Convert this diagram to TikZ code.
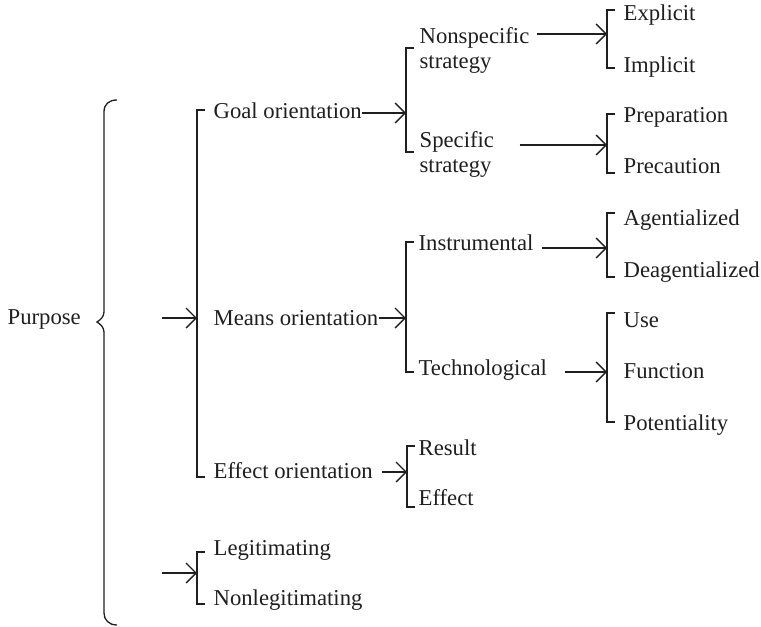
\documentclass[tikz,border=0pt]{standalone}
\usepackage{fontspec}
\setmainfont{Liberation Serif}
\usetikzlibrary{arrows.meta}
\begin{document}
\begin{tikzpicture}[x=1pt,y=-1pt,
  line width=1.3pt, draw=black!88, text=black!88,
  lbl/.style={anchor=base west, inner sep=0pt, font=\fontsize{22.7}{25}\selectfont, align=left},
  link/.style={-{Straight Barb[length=10pt,width=20pt,line width=1.3pt]}},
  tick/.style={line cap=butt, line join=miter}]
\useasboundingbox (0,0) rectangle (761,627);

% ---- labels (two-line labels are placed by their last baseline) ----
\node[lbl] (purpose)  at (7,324)   {Purpose};
\node[lbl] (goal)     at (213,118) {Goal orientation};
\node[lbl] (means)    at (213,325) {Means orientation};
\node[lbl] (effor)    at (213,478) {Effect orientation};
\node[lbl] (legit)    at (213,555) {Legitimating};
\node[lbl] (nonlegit) at (213,605) {Nonlegitimating};
\node[lbl] (nonspec)  at (419,68)  {Nonspecific\\strategy};
\node[lbl] (spec)     at (419,172) {Specific\\strategy};
\node[lbl] (instr)    at (418,250) {Instrumental};
\node[lbl] (techn)    at (418,375) {Technological};
\node[lbl] (result)   at (418,455) {Result};
\node[lbl] (effect)   at (418,505) {Effect};
\node[lbl] (explicit) at (623,20)  {Explicit};
\node[lbl] (implicit) at (623,72)  {Implicit};
\node[lbl] (prep)     at (623,122) {Preparation};
\node[lbl] (prec)     at (623,173) {Precaution};
\node[lbl] (agent)    at (623,225) {Agentialized};
\node[lbl] (deagent)  at (623,277) {Deagentialized};
\node[lbl] (use)      at (623,327) {Use};
\node[lbl] (function) at (623,378) {Function};
\node[lbl] (potent)   at (623,430) {Potentiality};

% ---- curly brace after "Purpose" ----
\draw (117,100) .. controls (109,100) and (104,104) .. (104,112) -- (104,312)
      .. controls (104,317) and (100,320) .. (97,322)
      .. controls (100,324) and (104,327) .. (104,332) -- (104,613)
      .. controls (104,620) and (109,625) .. (117,625);

% ---- square brackets ----
\draw[tick] (205,110) -- (197,110) -- (197,477) -- (205,477);
\draw[tick] (205,552) -- (197,552) -- (197,604) -- (205,604);
\draw[tick] (414,48)  -- (406,48)  -- (406,152) -- (414,152);
\draw[tick] (414,242) -- (406,242) -- (406,372) -- (414,372);
\draw[tick] (415,446) -- (407,446) -- (407,507) -- (415,507);
\draw[tick] (615,10)  -- (607,10)  -- (607,68)  -- (615,68);
\draw[tick] (615,114) -- (607,114) -- (607,173) -- (615,173);
\draw[tick] (615,213) -- (607,213) -- (607,277) -- (615,277);
\draw[tick] (615,313) -- (607,313) -- (607,422) -- (615,422);

% ---- bracket entry points ----
\coordinate (mainbr)  at (197,318);
\coordinate (legbr)   at (197,573);
\coordinate (goalbr)  at (406,113);
\coordinate (meansbr) at (406,318);
\coordinate (effbr)   at (407,472);
\coordinate (nsbr)    at (607,34);
\coordinate (spbr)    at (607,145);
\coordinate (instbr)  at (607,248);
\coordinate (techbr)  at (607,372);
\coordinate (orient)  at (162,318);
\coordinate (legitim) at (162,573);

% ---- arrows ----
\draw[link] (orient) -- (mainbr);
\draw[link] (legitim) -- (legbr);
\draw[link] (goal.east |- goalbr) -- (goalbr);
\draw[link] (means.east |- meansbr) -- (meansbr);
\draw[link, shorten <=9pt] (effor.east |- effbr) -- (effbr);
\draw[link, shorten <=7pt] (nonspec.east |- nsbr) -- (nsbr);
\draw[link, shorten <=25pt] (spec.east |- spbr) -- (spbr);
\draw[link, shorten <=8pt] (instr.east |- instbr) -- (instbr);
\draw[link, shorten <=17pt] (techn.east |- techbr) -- (techbr);
\end{tikzpicture}
\end{document}
